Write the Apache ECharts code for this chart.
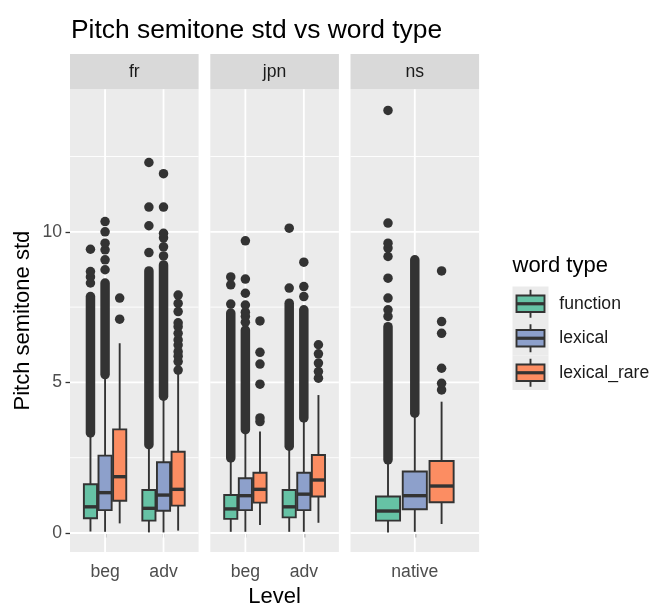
<!DOCTYPE html>
<html><head><meta charset="utf-8">
<script src="https://cdn.jsdelivr.net/npm/echarts@6/dist/echarts.min.js"></script>
<style>html,body{margin:0;padding:0;background:#fff}#c{width:654px;height:607px}</style>
</head><body><div id="c"></div>
<script>
// ---------- data ----------
const panels = ['fr', 'jpn', 'ns'];
const panelLevels = [['beg', 'adv'], ['beg', 'adv'], ['native']];
const wordTypes = ['function', 'lexical', 'lexical_rare'];
const typeColors = ['#66C2A5', '#8DA0CB', '#FC8D62'];
const yTickValues = [0, 5, 10];
const yMinorValues = [2.5, 7.5, 12.5];

// box stats per word type: [lower whisker, q1, median, q3, upper whisker]
const frBegStats  = [[0.05, 0.49, 0.87, 1.62, 3.20], [0.04, 0.76, 1.34, 2.57, 5.14], [0.32, 1.07, 1.87, 3.44, 6.30]];
const frAdvStats  = [[0.02, 0.41, 0.82, 1.43, 2.81], [0.02, 0.74, 1.26, 2.35, 4.42], [0.08, 0.91, 1.45, 2.70, 5.36]];
const jpnBegStats = [[0.04, 0.47, 0.80, 1.26, 2.37], [0.04, 0.76, 1.24, 1.82, 3.31], [0.27, 1.01, 1.45, 2.00, 3.37]];
const jpnAdvStats = [[0.04, 0.52, 0.87, 1.43, 2.76], [0.04, 0.76, 1.29, 2.00, 3.70], [0.34, 1.21, 1.76, 2.59, 4.58]];
const nsNativeStats = [[0.02, 0.41, 0.73, 1.21, 2.31], [0.04, 0.79, 1.24, 2.04, 3.86], [0.30, 1.02, 1.56, 2.39, 4.36]];

// ranges where outliers overlap into a solid column: [from, to] (null = none)
const frBegDense  = [[3.32, 7.85], [5.26, 8.30], null];
const frAdvDense  = [[2.93, 8.70], [4.54, 8.90], null];
const jpnBegDense = [[2.49, 7.30], [3.43, 6.74], null];
const jpnAdvDense = [[2.88, 7.63], [3.82, 7.41], null];
const nsNativeDense = [[2.43, 6.85], [3.98, 9.07], null];

// individual outliers
const frBegOutliers  = [[8.30, 8.50, 8.68, 9.42], [8.74, 9.07, 9.40, 9.62, 10.00, 10.34], [7.10, 7.80]];
const frAdvOutliers  = [[9.31, 10.20, 10.82, 12.30], [9.20, 9.50, 9.80, 9.95, 10.82, 11.93],
                        [5.41, 5.69, 5.87, 6.02, 6.24, 6.41, 6.63, 6.85, 6.98, 7.35, 7.62, 7.90]];
const jpnBegOutliers = [[7.60, 8.24, 8.50], [7.00, 7.19, 7.33, 7.57, 7.96, 8.43, 9.70], [3.70, 3.82, 4.94, 5.61, 6.00, 7.04]];
const jpnAdvOutliers = [[8.13, 10.12], [7.85, 8.18, 8.99], [5.14, 5.36, 5.64, 5.95, 6.25]];
const nsNativeOutliers = [[7.19, 7.41, 7.80, 8.46, 9.18, 9.46, 9.62, 10.29, 14.03], [], [4.75, 4.97, 5.47, 6.63, 7.02, 8.70]];

// ---------- assembly ----------
const statsByPanel = [[frBegStats, frAdvStats], [jpnBegStats, jpnAdvStats], [nsNativeStats]];
const denseByPanel = [[frBegDense, frAdvDense], [jpnBegDense, jpnAdvDense], [nsNativeDense]];
const outByPanel = [[frBegOutliers, frAdvOutliers], [jpnBegOutliers, jpnAdvOutliers], [nsNativeOutliers]];

const DODGE = [-0.25, 0, 0.25];
const BOX_W = 0.225;
const Y_MIN = -0.63, Y_MAX = 14.73;
const INK = '#333333';
const LW = 1.9;

const gridLeft = [70, 210.3, 350.5];
const gridW = 128.6;
const gridTop = 89.3, gridH = 462.7;

const grids = [], xAxes = [], yAxes = [], series = [], graphics = [];

function renderBox(params, api) {
  const x = api.value(0);
  const lo = api.coord([x, api.value(1)]);
  const q1 = api.coord([x, api.value(2)]);
  const md = api.coord([x, api.value(3)]);
  const q3 = api.coord([x, api.value(4)]);
  const hi = api.coord([x, api.value(5)]);
  const w = api.size([BOX_W, 0])[0];
  const color = api.visual('color');
  return { type: 'group', children: [
    { type: 'line', shape: { x1: lo[0], y1: lo[1], x2: q1[0], y2: q1[1] }, style: { stroke: INK, lineWidth: LW } },
    { type: 'line', shape: { x1: q3[0], y1: q3[1], x2: hi[0], y2: hi[1] }, style: { stroke: INK, lineWidth: LW } },
    { type: 'rect', shape: { x: q3[0] - w / 2, y: q3[1], width: w, height: q1[1] - q3[1] }, style: { fill: color, stroke: INK, lineWidth: LW } },
    { type: 'line', shape: { x1: md[0] - w / 2, y1: md[1], x2: md[0] + w / 2, y2: md[1] }, style: { stroke: INK, lineWidth: 3.4 } }
  ]};
}
function renderDense(params, api) {
  const x = api.value(0);
  const a = api.coord([x, api.value(1)]);
  const b = api.coord([x, api.value(2)]);
  return { type: 'line', shape: { x1: a[0], y1: a[1], x2: b[0], y2: b[1] }, style: { stroke: INK, lineWidth: 9.5, lineCap: 'round' } };
}
function renderGrid(params, api) {
  const kind = api.value(0), v = api.value(1);
  const cs = params.coordSys;
  if (kind === 2) {
    const p = api.coord([v, Y_MIN]);
    return { type: 'line', shape: { x1: p[0], y1: cs.y, x2: p[0], y2: cs.y + cs.height }, style: { stroke: '#fff', lineWidth: 1.8 } };
  }
  const p = api.coord([1, v]);
  return { type: 'line', shape: { x1: cs.x, y1: p[1], x2: cs.x + cs.width, y2: p[1] }, style: { stroke: '#fff', lineWidth: kind === 0 ? 1.8 : 0.9 } };
}

panels.forEach((pname, pi) => {
  const levels = panelLevels[pi];
  grids.push({ left: gridLeft[pi], top: gridTop, width: gridW, height: gridH, show: true, backgroundColor: '#EBEBEB', borderWidth: 0,
    containLabel: false, outerBoundsMode: 'none' });
  const xVals = levels.map((l, i) => i + 1);
  xAxes.push({
    type: 'value', gridIndex: pi, min: 0.4, max: levels.length + 0.6,
    axisLine: { show: false }, splitLine: { show: false },
    axisTick: { show: true, customValues: xVals, length: 4.5, lineStyle: { color: INK, width: 1.3 } },
    axisLabel: { show: true, customValues: xVals, margin: 11, color: '#4D4D4D', fontSize: 17.6, fontFamily: 'Liberation Sans',
      formatter: v => levels[Math.round(v) - 1] },
    name: pi === 1 ? 'Level' : '', nameLocation: 'middle', nameGap: 34,
    nameTextStyle: { fontSize: 22, color: '#000', fontFamily: 'Liberation Sans' }
  });
  yAxes.push({
    type: 'value', gridIndex: pi, min: Y_MIN, max: Y_MAX,
    axisLine: { show: false }, splitLine: { show: false },
    axisTick: { show: pi === 0, customValues: yTickValues, length: 4.5, lineStyle: { color: INK, width: 1.3 } },
    axisLabel: { show: pi === 0, customValues: yTickValues, margin: 8, color: '#4D4D4D', fontSize: 17.6, fontFamily: 'Liberation Sans' },
    name: pi === 0 ? 'Pitch semitone std' : '', nameLocation: 'middle', nameGap: 36, nameRotate: 90,
    nameTextStyle: { fontSize: 22, color: '#000', fontFamily: 'Liberation Sans' }
  });
  // gridlines
  const gl = [];
  yTickValues.forEach(v => gl.push([0, v]));
  yMinorValues.forEach(v => gl.push([1, v]));
  xVals.forEach(v => gl.push([2, v]));
  series.push({ type: 'custom', xAxisIndex: pi, yAxisIndex: pi, z: 1, silent: true, renderItem: renderGrid, data: gl,
    encode: { x: 1, y: 1 } });

  wordTypes.forEach((wt, ti) => {
    const boxData = [], denseData = [], outData = [];
    levels.forEach((lv, li) => {
      const x = li + 1 + DODGE[ti];
      boxData.push([x].concat(statsByPanel[pi][li][ti]));
      const d = denseByPanel[pi][li][ti];
      if (d) denseData.push([x, d[0], d[1]]);
      outByPanel[pi][li][ti].forEach(v => outData.push([x, v]));
    });
    series.push({ type: 'custom', name: wt, xAxisIndex: pi, yAxisIndex: pi, z: 3, silent: true,
      itemStyle: { color: typeColors[ti] }, renderItem: renderBox, data: boxData, encode: { x: 0, y: [1, 2, 3, 4, 5] } });
    series.push({ type: 'custom', xAxisIndex: pi, yAxisIndex: pi, z: 4, silent: true,
      renderItem: renderDense, data: denseData, encode: { x: 0, y: [1, 2] } });
    series.push({ type: 'scatter', xAxisIndex: pi, yAxisIndex: pi, z: 4, silent: true,
      symbolSize: 9.5, itemStyle: { color: INK, opacity: 1 }, data: outData });
  });

  // facet strip
  graphics.push({ type: 'rect', shape: { x: gridLeft[pi], y: 54, width: gridW, height: gridTop - 54 }, style: { fill: '#D9D9D9' }, silent: true });
  graphics.push({ type: 'text', x: gridLeft[pi] + gridW / 2, y: (54 + gridTop) / 2,
    style: { text: pname, fill: '#1A1A1A', fontSize: 17.6, fontFamily: 'Liberation Sans', align: 'center', verticalAlign: 'middle' }, silent: true });
});

// legend (ggplot style boxplot keys)
const legX = 512.5, keyTop = 286.5, keyH = 34.5, keyW = 36;
graphics.push({ type: 'text', x: legX, y: 266, style: { text: 'word type', fill: '#000', fontSize: 22, fontFamily: 'Liberation Sans', align: 'left', verticalAlign: 'middle' } });
wordTypes.forEach((wt, ti) => {
  const y0 = keyTop + ti * keyH, cy = y0 + keyH / 2, cx = legX + keyW / 2;
  graphics.push({ type: 'rect', shape: { x: legX, y: y0, width: keyW, height: keyH }, style: { fill: '#EBEBEB' } });
  graphics.push({ type: 'line', shape: { x1: cx, y1: cy - 14, x2: cx, y2: cy + 14 }, style: { stroke: INK, lineWidth: LW } });
  graphics.push({ type: 'rect', shape: { x: legX + 4, y: cy - 8.3, width: keyW - 8, height: 16.6 }, style: { fill: typeColors[ti], stroke: INK, lineWidth: LW } });
  graphics.push({ type: 'line', shape: { x1: legX + 4, y1: cy, x2: legX + keyW - 4, y2: cy }, style: { stroke: INK, lineWidth: 3.2 } });
  graphics.push({ type: 'text', x: 559.3, y: cy, style: { text: wt, fill: '#1A1A1A', fontSize: 17.6, fontFamily: 'Liberation Sans', align: 'left', verticalAlign: 'middle' } });
});

const chart = echarts.init(document.getElementById('c'), null, { renderer: 'canvas' });
chart.setOption({
  animation: false,
  backgroundColor: '#ffffff',
  title: { text: 'Pitch semitone std vs word type', left: 66, top: 13,
    textStyle: { fontSize: 26.4, fontWeight: 'normal', color: '#000', fontFamily: 'Liberation Sans' } },
  grid: grids, xAxis: xAxes, yAxis: yAxes, series: series,
  graphic: graphics
});
</script></body></html>
